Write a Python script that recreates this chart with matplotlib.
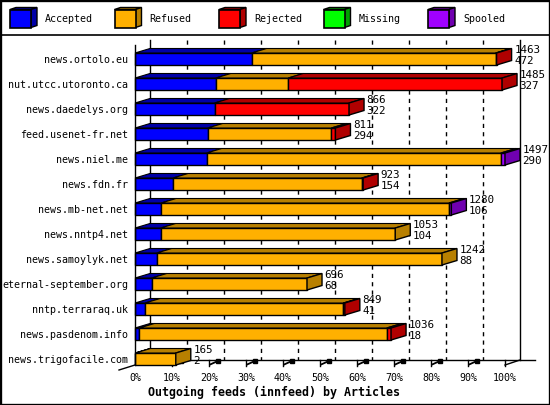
import matplotlib
matplotlib.use('Agg')
import matplotlib.pyplot as plt
from matplotlib.patches import Polygon, Rectangle
from matplotlib.lines import Line2D

# innfeed outgoing feeds, article counts per peer
servers = ['news.ortolo.eu', 'nut.utcc.utoronto.ca', 'news.daedelys.org',
           'feed.usenet-fr.net', 'news.niel.me', 'news.fdn.fr',
           'news.mb-net.net', 'news.nntp4.net', 'news.samoylyk.net',
           'eternal-september.org', 'nntp.terraraq.uk', 'news.pasdenom.info',
           'news.trigofacile.com']
accepted = [472, 327, 322, 294, 290, 154, 106, 104, 88, 68, 41, 18, 2]
refused = [987, 293, 0, 500, 1190, 763, 1164, 949, 1154, 628, 802, 1000, 163]
rejected = [4, 865, 544, 17, 0, 6, 0, 0, 0, 0, 6, 18, 0]
missing = [0, 0, 0, 0, 0, 0, 0, 0, 0, 0, 0, 0, 0]
spooled = [0, 0, 0, 0, 17, 0, 10, 0, 0, 0, 0, 0, 0]

series_names = ['Accepted', 'Refused', 'Rejected', 'Missing', 'Spooled']
series = [accepted, refused, rejected, missing, spooled]
front_col = ['#0000ff', '#ffb000', '#ff0000', '#00ff00', '#a000ff']
dark_col = ['#0000a8', '#b88000', '#b00000', '#00a000', '#7000b0']
ticks = list(range(0, 101, 10))

W, H = 550, 405
MONO = 'DejaVu Sans Mono'

fig = plt.figure(figsize=(5.5, 4.05), dpi=100)
fig.patch.set_facecolor('white')

# plot area: 0%..100% -> 135..505 px, rows 25 px apart
ax = fig.add_axes([135 / W, 40 / H, 370 / W, 325 / H])
ax.set_xlim(0, 100)
ax.set_ylim(12.24, -0.76)
for s in ax.spines.values():
    s.set_visible(False)
ax.set_yticks(range(len(servers)), servers, fontfamily=MONO, fontsize=7.2)
ax.set_xticks(ticks, ['%d%%' % t for t in ticks], fontfamily=MONO, fontsize=7.2)
ax.tick_params(axis='y', length=0, pad=5)
ax.tick_params(axis='x', length=0, pad=6)

DX = 15 / 3.7     # depth in %
DY = 4.5 / 25     # depth in rows
HB = 0.24         # half bar height
top_row, floor_row = -0.76, 12.04

def line(xs, ys, **kw):
    kw.setdefault('color', 'black')
    kw.setdefault('lw', 1)
    ax.add_line(Line2D(xs, ys, clip_on=False, **kw))

# back grid
for t in ticks[1:-1]:
    line([t + DX, t + DX], [top_row, floor_row], ls=(0, (3, 3)), zorder=1)
line([DX, DX], [top_row, floor_row], zorder=1)
line([100 + DX, 100 + DX], [top_row, floor_row], zorder=1)
line([0, 0], [-0.56, 12.24], zorder=6)
line([DX, 108.1], [floor_row, floor_row], zorder=1)
line([-4.32, 0], [12.44, 12.24], zorder=1)
line([100, 100 + DX], [12.24, floor_row], zorder=1)
for t in ticks[1:]:
    line([t, t], [floor_row, 12.28], zorder=1)
    if t < 100:
        line([t + 0.3, t + 2.4], [12.22, 12.08], lw=1.3, zorder=1)
        line([t + 2.4], [12.08], marker='s', ms=2.2, zorder=1)

totals = [sum(v) for v in zip(*series)]
scale = 100.0 / max(totals)

for i in range(len(servers)):
    x0 = 0.0
    yt, yb = i - HB, i + HB
    last = 0
    for k, s in enumerate(series):
        v = s[i] * scale
        if v <= 0:
            continue
        x1 = x0 + v
        ax.add_patch(Rectangle((x0, yt), v, 2 * HB, fc=front_col[k], ec='black',
                               lw=1, zorder=3, clip_on=False))
        ax.add_patch(Polygon([(x0, yt), (x1, yt), (x1 + DX, yt - DY), (x0 + DX, yt - DY)],
                             closed=True, fc=dark_col[k], ec='black', lw=0.8,
                             zorder=3, clip_on=False))
        x0 = x1
        last = k
    # only the outermost segment shows its side face
    ax.add_patch(Polygon([(x0, yt), (x0 + DX, yt - DY), (x0 + DX, yb - DY), (x0, yb)],
                         closed=True, fc=dark_col[last], ec='black', lw=1,
                         zorder=4, clip_on=False))
    xe = totals[i] * scale + DX + 0.7
    ax.text(xe, i - 0.36, str(totals[i]), fontfamily=MONO, fontsize=7.8,
            va='center', ha='left', zorder=5, clip_on=False)
    ax.text(xe, i + 0.08, str(accepted[i]), fontfamily=MONO, fontsize=7.8,
            va='center', ha='left', zorder=5, clip_on=False)

fig.text(274 / W, 1 - 392 / H, 'Outgoing feeds (innfeed) by Articles',
         fontfamily=MONO, fontweight='bold', fontsize=8.4, ha='center', va='center')

# legend boxes
def fpx(x, y):
    return (x / W, 1 - y / H)

for j, name in enumerate(series_names):
    lx = 10 + 104.5 * j
    fy0, fy1 = 9.5, 27.5
    fig.add_artist(Polygon([fpx(lx, fy0), fpx(lx + 21, fy0), fpx(lx + 27, fy0 - 2), fpx(lx + 6, fy0 - 2)],
                           closed=True, fc=dark_col[j], ec='black', lw=1,
                           transform=fig.transFigure))
    fig.add_artist(Polygon([fpx(lx + 21, fy0), fpx(lx + 27, fy0 - 2), fpx(lx + 27, fy1 - 2), fpx(lx + 21, fy1)],
                           closed=True, fc=dark_col[j], ec='black', lw=1,
                           transform=fig.transFigure))
    fig.add_artist(Polygon([fpx(lx, fy0), fpx(lx + 21, fy0), fpx(lx + 21, fy1), fpx(lx, fy1)],
                           closed=True, fc=front_col[j], ec='black', lw=1.2,
                           transform=fig.transFigure))
    fig.text((lx + 35) / W, 1 - 19 / H, name, fontfamily=MONO, fontsize=7.2,
             ha='left', va='center')

fig.add_artist(Line2D([0, 1], [1 - 35 / H, 1 - 35 / H], color='black', lw=1.2,
                      transform=fig.transFigure))
fig.add_artist(Rectangle((0, 0), 1, 1, fill=False, ec='black', lw=2.4,
                         transform=fig.transFigure))

fig.savefig('out.png', dpi=100)
